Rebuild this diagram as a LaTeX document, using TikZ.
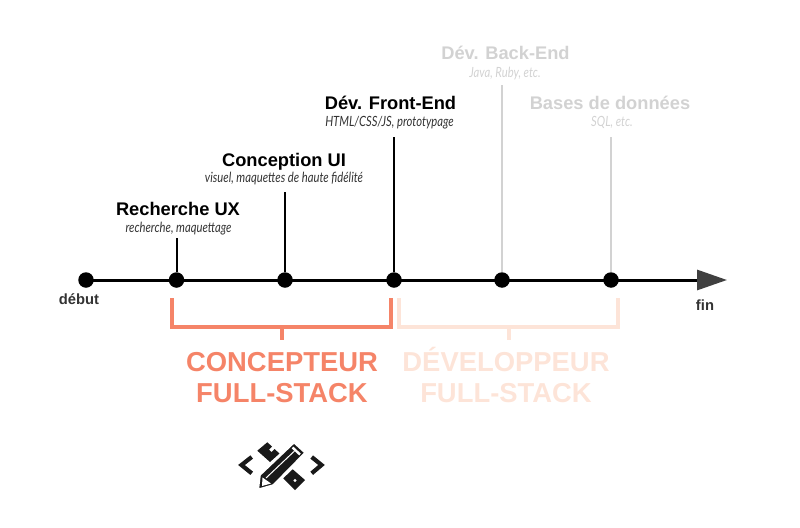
\documentclass[tikz,border=0pt]{standalone}
\usepackage{fontspec}
\usetikzlibrary{arrows.meta}
\setmainfont{Liberation Sans}
\newfontfamily\subfont[FakeStretch=0.8]{Lato}
\definecolor{concept}{HTML}{F58468}
\definecolor{devpale}{HTML}{FDE4D8}
\definecolor{greyed}{HTML}{D2D2D2}
\definecolor{subdark}{HTML}{333333}
\tikzset{
    dot/.style={circle,fill=black,inner sep=0pt,minimum size=15.5*0.02cm},
    title/.style={font=\fontsize{10.4}{12}\selectfont\bfseries,inner sep=0pt,anchor=base},
    subtitle/.style={font=\fontsize{8}{9}\subfont\itshape,inner sep=0pt,anchor=base},
    endlabel/.style={font=\fontsize{8.4}{10}\selectfont\bfseries,inner sep=0pt,text=black!80,anchor=base},
    bigname/.style={font=\fontsize{15.6}{17.6}\selectfont\bfseries,inner sep=0pt,align=center,anchor=base},
    stem/.style={line width=2.4*0.02cm},
    brace/.style={line width=4*0.02cm,line cap=butt,line join=miter}
}
\begin{document}
\begin{tikzpicture}[x=0.02cm,y=-0.02cm]
    \useasboundingbox (0,0) rectangle (800,527);
    % axe
    \coordinate (end) at (727,280);
    \foreach \name/\xx in {start/86,ux/176.5,ui/285,front/394,back/502,db/611}
        \node[dot] (\name) at (\xx,280) {};
    \draw[line width=3*0.02cm,-{Triangle[length=30*0.02cm,width=20*0.02cm,color=black!75]}] (start.center) -- (end);
    % tiges
    \coordinate (uxtop) at (176.5,238);
    \coordinate (uitop) at (285,192);
    \coordinate (fronttop) at (394,137);
    \coordinate (backtop) at (502,85);
    \coordinate (dbtop) at (611,137);
    \draw[stem,line width=2*0.02cm] (ux) -- (uxtop);
    \draw[stem] (ui) -- (uitop);
    \draw[stem] (front) -- (fronttop);
    \draw[stem,greyed] (back) -- (backtop);
    \draw[stem,greyed] (db) -- (dbtop);
    % textes
    \node[title] (uxlabel) at (178,215) {Recherche UX};
    \node[subtitle,text=subdark] (uxsub) at (178.5,232) {recherche, maquettage};
    \node[title] (uilabel) at (284,166) {Conception UI};
    \node[subtitle,text=subdark] (uisub) at (284,182) {visuel, maquettes de haute fidélité};
    \node[title] (frontlabel) at (390.5,110) {Dév. Front-End};
    \node[subtitle,text=subdark] (frontsub) at (389.5,126) {HTML/CSS/JS, prototypage};
    \node[title,text=greyed] (backlabel) at (505.5,60) {Dév. Back-End};
    \node[subtitle,text=greyed] (backsub) at (505,77) {Java, Ruby, etc.};
    \node[title,text=greyed] (dblabel) at (610,110) {Bases de données};
    \node[subtitle,text=greyed] (dbsub) at (612,126) {SQL, etc.};
    \node[endlabel] (startlabel) at (79,304) {début};
    \node[endlabel] (endlabel) at (705,310) {fin};
    % accolades
    \draw[brace,concept] (172,298) -- (172,327) -- (391,327) -- (391,298);
    \draw[brace,concept] (281.5,327) -- (281.5,340);
    \draw[brace,devpale] (399,298) -- (399,327) -- (618,327) -- (618,298);
    \draw[brace,devpale] (508.5,327) -- (508.5,340);
    \node[bigname,text=concept] (conceptname) at (282,402.5) {CONCEPTEUR\\FULL-STACK};
    \node[bigname,text=devpale] (devname) at (506,402.5) {DÉVELOPPEUR\\FULL-STACK};
    % icone
    \draw[line width=4.2*0.02cm,black!90] (251.7,457) -- (241.5,465) -- (251.7,473.3);
    \draw[line width=4.2*0.02cm,black!90] (311.7,457) -- (321.5,465) -- (311.7,473.3);
    \fill[black!90] (257.3,450.7) -- (267.3,442.3) -- (272,446.5) -- (269,449.5) -- (271.5,452) -- (274.5,449) -- (279.5,453.5) -- (270,462) -- cycle;
    \fill[black!90] (283.3,478.3) -- (292.7,469.3) -- (305,480) -- (295,490) -- cycle;
    \fill[white] (295,480.5) circle (1.6);
    \fill[black!90,draw=white,line width=1.6*0.02cm] (294,442.7) -- (305,452.7) -- (273.3,485) -- (258.3,489.3) -- (260,475) -- cycle;
    \fill[white] (262.5,477.5) -- (271,483.5) -- (262,486) -- cycle;
    \draw[white,line width=1*0.02cm] (266,478) -- (294.5,451);
    \draw[white,line width=2.4*0.02cm] (292.5,447.5) -- (300,454.5);
\end{tikzpicture}
\end{document}
